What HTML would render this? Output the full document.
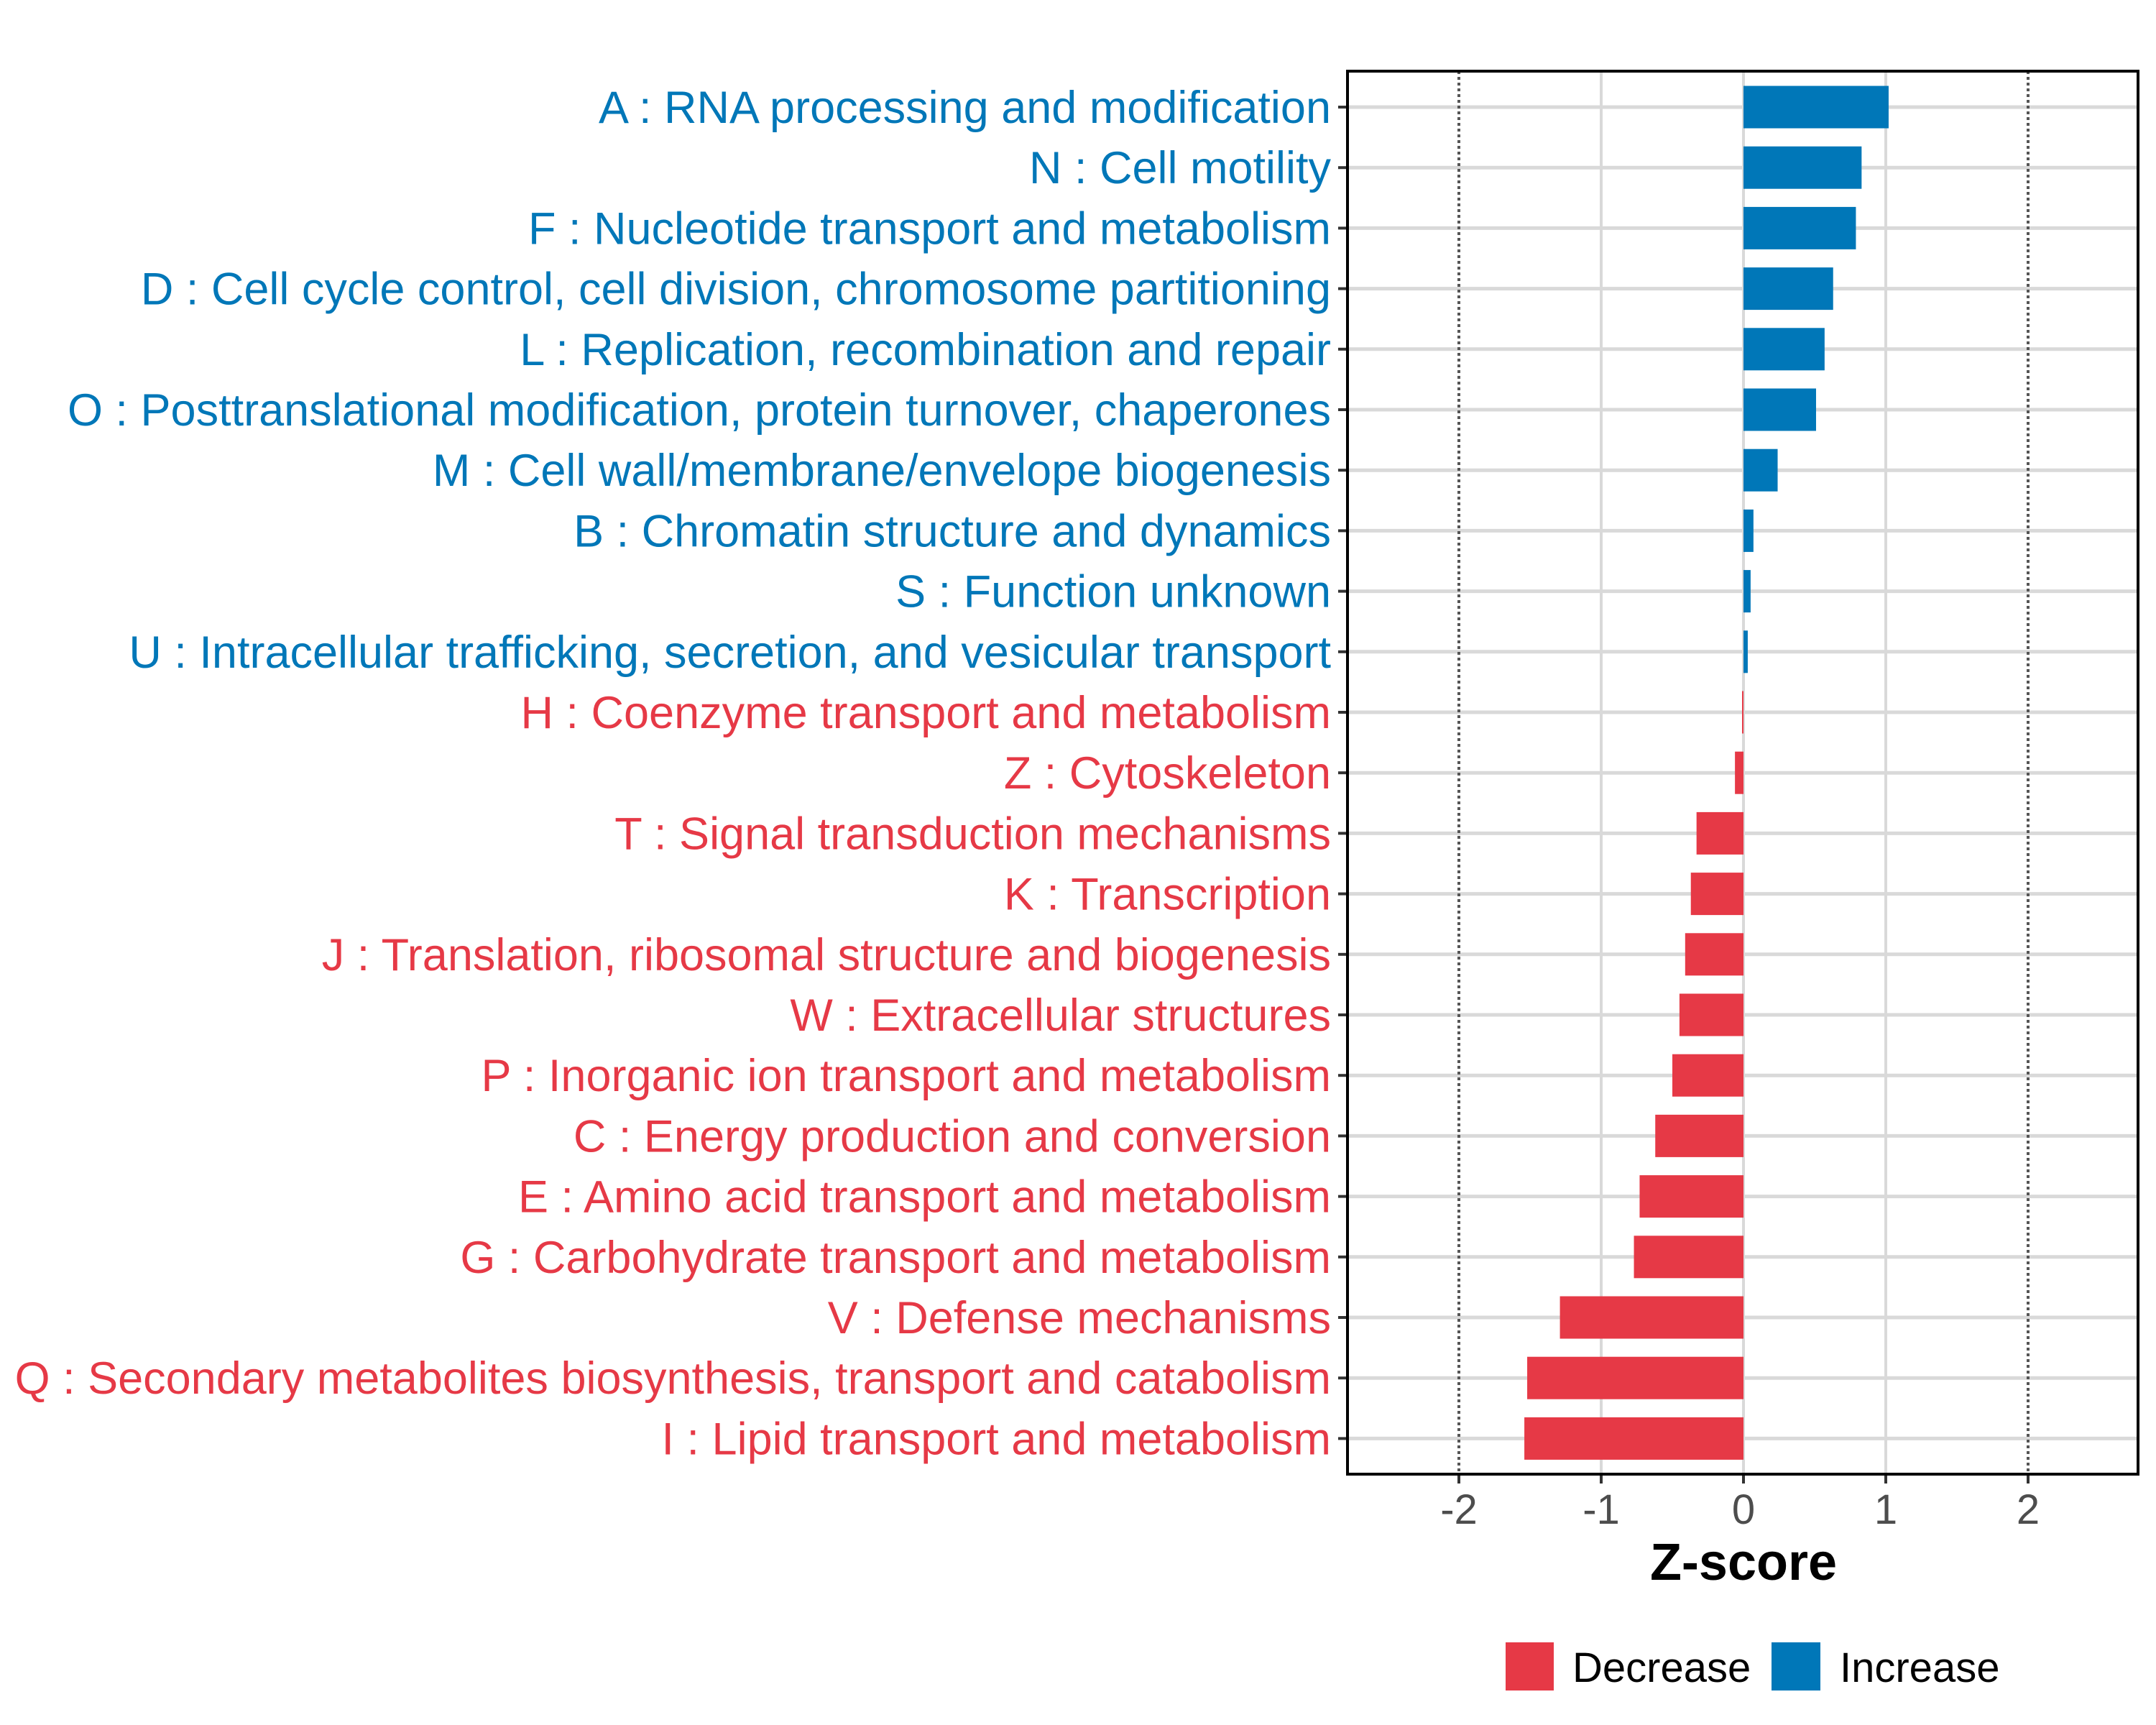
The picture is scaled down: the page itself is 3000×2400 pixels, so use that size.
<!DOCTYPE html>
<html><head><meta charset="utf-8"><style>html,body{margin:0;padding:0;background:#fff}svg{display:block}</style></head>
<body>
<svg id="chart" width="3000" height="2400" viewBox="0 0 3000 2400" xmlns="http://www.w3.org/2000/svg" font-family="Liberation Sans, Arial, sans-serif">
<rect width="3000" height="2400" fill="#fff"/>
<g id="grid"></g><g id="bars"></g><g id="labels"></g><g id="xaxis"></g>
<rect x="1875" y="99" width="1100" height="1952" fill="none" stroke="#000" stroke-width="4"/>
<text x="2426" y="2198" font-size="72" font-weight="bold" text-anchor="middle" fill="#000">Z-score</text>
<g>
<rect x="2095" y="2285" width="67" height="67" fill="#E63946"/>
<text x="2188" y="2340" font-size="58" fill="#000">Decrease</text>
<rect x="2465" y="2285" width="68" height="67" fill="#0077B8"/>
<text x="2560" y="2340" font-size="58" fill="#000">Increase</text>
</g>
</svg>
<script>
const categories = ["A : RNA processing and modification","N : Cell motility","F : Nucleotide transport and metabolism","D : Cell cycle control, cell division, chromosome partitioning","L : Replication, recombination and repair","O : Posttranslational modification, protein turnover, chaperones","M : Cell wall/membrane/envelope biogenesis","B : Chromatin structure and dynamics","S : Function unknown","U : Intracellular trafficking, secretion, and vesicular transport","H : Coenzyme transport and metabolism","Z : Cytoskeleton","T : Signal transduction mechanisms","K : Transcription","J : Translation, ribosomal structure and biogenesis","W : Extracellular structures","P : Inorganic ion transport and metabolism","C : Energy production and conversion","E : Amino acid transport and metabolism","G : Carbohydrate transport and metabolism","V : Defense mechanisms","Q : Secondary metabolites biosynthesis, transport and catabolism","I : Lipid transport and metabolism"];
const zscores = [1.02,0.83,0.79,0.63,0.57,0.51,0.24,0.07,0.05,0.03,-0.01,-0.06,-0.33,-0.37,-0.41,-0.45,-0.50,-0.62,-0.73,-0.77,-1.29,-1.52,-1.54];
const xTicks = [-2,-1,0,1,2];
const xTickLabels = ["-2","-1","0","1","2"];
const majorGrid = [-1,0,1];
const thresholds = [-2,2];

const NS="http://www.w3.org/2000/svg";
const pLeft=1875,pRight=2975,pTop=99,pBottom=2051;
const x0=2426,unit=198;
const xs=v=>x0+v*unit;
const rowStep=84.2, firstRow=149;
const ys=i=>firstRow+i*rowStep;
const barH=59;
const BLUE="#0077B8",RED="#E63946";
function mk(tag,attrs,parent){const e=document.createElementNS(NS,tag);for(const k in attrs)e.setAttribute(k,attrs[k]);parent.appendChild(e);return e;}
const gGrid=document.getElementById('grid'),gBars=document.getElementById('bars'),gLabels=document.getElementById('labels'),gX=document.getElementById('xaxis');
categories.forEach((c,i)=>{
  const l=mk('line',{x1:pLeft,x2:pRight,y1:ys(i),y2:ys(i),stroke:'#d9d9d9','stroke-width':5},gGrid);
  
  
});
majorGrid.forEach(v=>{
  const l=mk('line',{x1:xs(v),x2:xs(v),y1:pTop,y2:pBottom,stroke:'#d9d9d9','stroke-width':4},gGrid);
  
  
});
thresholds.forEach(v=>{
  const l=mk('line',{x1:xs(v),x2:xs(v),y1:pTop,y2:pBottom,stroke:'#555','stroke-width':4,'stroke-dasharray':'4 4'},gGrid);
  
  
});
categories.forEach((c,i)=>{
  const v=zscores[i];const col=v>=0?BLUE:RED;
  const r=mk('rect',{x:Math.min(xs(0),xs(v)),y:ys(i)-barH/2,width:Math.max(Math.abs(xs(v)-xs(0)),1.5),height:barH,fill:col},gBars);
  
  
  const t=mk('text',{x:1852,y:ys(i)+22,'font-size':63,'text-anchor':'end',fill:col},gLabels);
  t.textContent=c;
  
  
  const tk=mk('line',{x1:1862,x2:1875,y1:ys(i),y2:ys(i),stroke:'#333','stroke-width':4},gLabels);
  
  
});
xTicks.forEach((v,i)=>{
  const tk=mk('line',{x1:xs(v),x2:xs(v),y1:pBottom,y2:pBottom+13,stroke:'#333','stroke-width':4},gX);
  
  
  const t=mk('text',{x:xs(v),y:2120,'font-size':58,'text-anchor':'middle',fill:'#4d4d4d'},gX);
  t.textContent=xTickLabels[i];
  
  
});
</script>
</body></html>
